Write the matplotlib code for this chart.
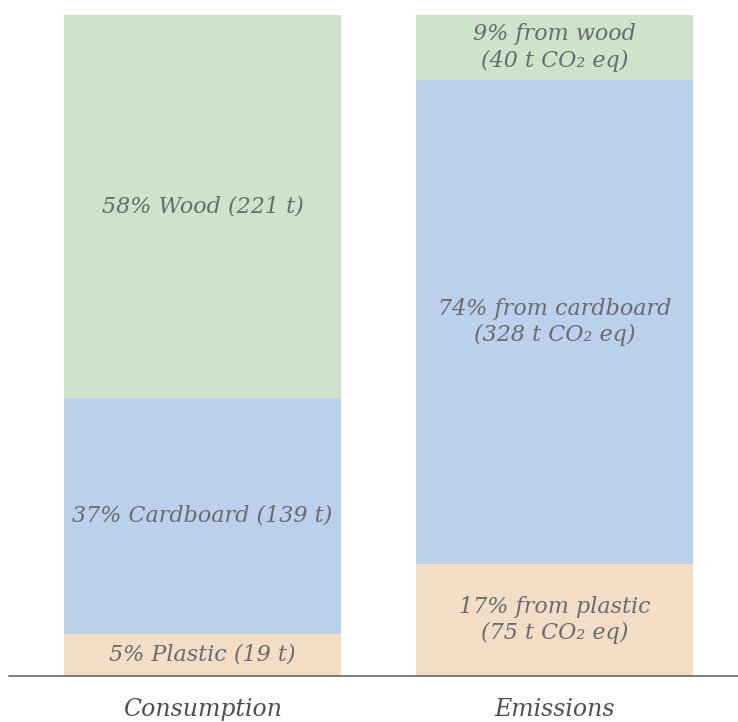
import matplotlib.pyplot as plt

# bar categories
categories = ['Consumption', 'Emissions']
materials = ['Plastic', 'Cardboard', 'Wood']

# segment shares (%) as drawn, bottom to top
consumption_share = [6.4, 35.7, 57.9]
emissions_share = [16.9, 73.3, 9.8]

consumption_labels = ['5% Plastic (19 t)', '37% Cardboard (139 t)', '58% Wood (221 t)']
emissions_labels = ['17% from plastic\n(75 t CO\u2082 eq)',
                    '74% from cardboard\n(328 t CO\u2082 eq)',
                    '9% from wood\n(40 t CO\u2082 eq)']

colors = ['#f2dec6', '#bbd0ea', '#cde4cb']
text_color = '#686c6e'


def plot_stacked(ax):
    shares = [consumption_share, emissions_share]
    labels = [consumption_labels, emissions_labels]
    for i in range(len(categories)):
        bottom = 0
        for j in range(len(materials)):
            h = shares[i][j]
            ax.bar(i, h, bottom=bottom, width=0.787, color=colors[j], linewidth=0)
            ax.text(i, bottom + h / 2, labels[i][j], ha='center', va='center',
                    fontsize=16, style='italic', family='DejaVu Serif',
                    color=text_color, linespacing=1.25)
            bottom += h


fig = plt.figure(figsize=(7.38, 7.22), dpi=100)
ax = fig.add_axes([9 / 738, 46 / 722, 729 / 738, 661 / 722])
plot_stacked(ax)

ax.set_xlim(-0.5497, 1.5213)
ax.set_ylim(0, 100)
ax.set_yticks([])
ax.set_xticks(range(len(categories)))
ax.set_xticklabels(categories, fontsize=17, style='italic', family='DejaVu Serif',
                   color='#4a4f50')
ax.tick_params(axis='x', length=0, pad=16)
for s in ['top', 'left', 'right']:
    ax.spines[s].set_visible(False)
ax.spines['bottom'].set_color('#596060')
ax.spines['bottom'].set_linewidth(1.1)

fig.savefig('out.png', dpi=100)
